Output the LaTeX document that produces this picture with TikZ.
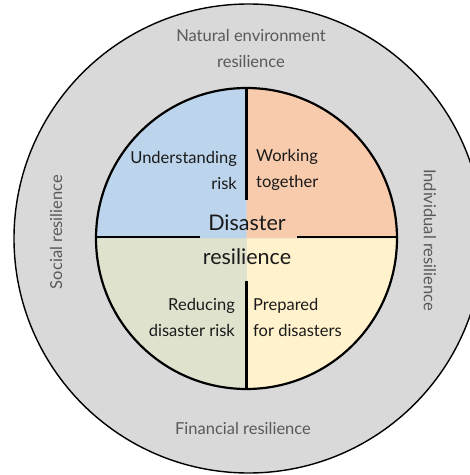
\documentclass[tikz,border=0pt]{standalone}
\usepackage{fontspec}
\setmainfont{Lato}
\definecolor{ringgrey}{HTML}{D9D9D9}
\definecolor{qblue}{HTML}{BDD5EC}
\definecolor{qorange}{HTML}{F8CBAD}
\definecolor{qgreen}{HTML}{DFE3CE}
\definecolor{qyellow}{HTML}{FFF2CC}
\definecolor{outertext}{HTML}{595959}
\definecolor{innertext}{HTML}{1A1A1A}
\tikzset{
  outerlbl/.style={text=outertext, font=\fontsize{16.5}{26}\selectfont, align=center, inner sep=0pt},
  innerlbl/.style={text=innertext, font=\fontsize{16.5}{26}\selectfont, inner sep=0pt},
  centerlbl/.style={text=innertext, font=\fontsize{21.5}{34}\selectfont, inner sep=0pt},
  divider/.style={line width=2.4pt, black},
}
\begin{document}
\begin{tikzpicture}[x=1pt,y=1pt]
\useasboundingbox (0,0) rectangle (470,475);
\clip (0,0) rectangle (470,475);
% outer ring
\node[circle, draw=black, line width=1.4pt, fill=ringgrey, minimum size=469pt, inner sep=0pt] (outer) at (248.5,236.5) {};
% inner quadrants
\coordinate (c) at (246.5,236.5);
\fill[qblue] (c) -- ++(-150.5,0) arc[start angle=180, end angle=90, radius=150.5] -- cycle;
\fill[qorange] (c) -- ++(0,150.5) arc[start angle=90, end angle=0, radius=150.5] -- cycle;
\fill[qyellow] (c) -- ++(150.5,0) arc[start angle=0, end angle=-90, radius=150.5] -- cycle;
\fill[qgreen] (c) -- ++(0,-150.5) arc[start angle=-90, end angle=-180, radius=150.5] -- cycle;
\node[circle, draw=black, line width=2.2pt, minimum size=301pt, inner sep=0pt] (inner) at (c) {};
% dividers
\coordinate (vt) at (246.5,275);
\coordinate (vb) at (246.5,194);
\coordinate (hl) at (200,238);
\coordinate (hr) at (297,238);
\draw[divider] (inner.north) -- (vt);
\draw[divider] (inner.south) -- (vb);
\draw[divider] (inner.west |- hl) -- (hl);
\draw[divider] (hr) -- (inner.east |- hr);
% outer labels
\node[outerlbl] (nat) at (251,427) {Natural environment\\resilience};
\node[outerlbl] (fin) at (243,47) {Financial resilience};
\node[outerlbl, rotate=90] (soc) at (56,243) {Social resilience};
\node[outerlbl, rotate=-90] (ind) at (430,235) {Individual resilience};
% inner labels
\node[innerlbl, align=right, anchor=east] (und) at (237,305) {Understanding\\risk};
\node[innerlbl, align=left, anchor=west] (wor) at (256,305) {Working\\together};
\node[innerlbl, align=right, anchor=east] (red) at (235,158) {Reducing\\disaster risk};
\node[innerlbl, align=left, anchor=west] (pre) at (253,158) {Prepared\\for disasters};
\node[centerlbl, align=center] (dis) at (247,235) {Disaster\\resilience};
\end{tikzpicture}
\end{document}
